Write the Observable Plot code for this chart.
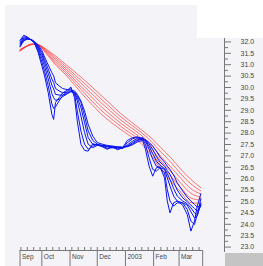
<!DOCTYPE html>
<html><head><meta charset="utf-8">
<script src="https://cdn.jsdelivr.net/npm/d3@7"></script>
<script src="https://cdn.jsdelivr.net/npm/@observablehq/plot@0.6"></script>
<style>
html,body{margin:0;padding:0;background:#fff;}
#wrap{position:relative;width:263px;height:266px;overflow:hidden;}
#bg{position:absolute;left:5px;top:5px;width:258px;height:261px;background:#f4f4f8;}
#wb{position:absolute;left:197px;top:0;width:66px;height:38px;background:#fff;}
#gb{position:absolute;left:225px;top:253px;width:38px;height:13px;background:#c4c4c4;}
#chart{position:absolute;left:0;top:0;width:263px;height:266px;}
</style></head><body>
<div id="wrap"><div id="bg"></div><div id="wb"></div><div id="gb"></div><div id="chart"></div></div>
<script>
// Long-term moving averages (red)
const redDates = ["2002-09-07","2002-09-13","2002-09-19","2002-09-24","2002-10-01","2002-10-05","2002-10-11","2002-10-16","2002-10-22","2002-11-02","2002-11-13","2002-11-24","2002-12-05","2002-12-16","2002-12-27","2003-01-07","2003-01-18","2003-01-29","2003-02-09","2003-02-20","2003-03-03","2003-03-14","2003-03-25"];
const ma30 = [31.60,31.77,31.90,31.88,31.72,31.53,31.24,30.99,30.77,30.30,29.78,29.30,28.85,28.48,28.15,27.85,27.55,27.05,26.40,25.90,25.40,24.95,24.92];
const ma35 = [31.61,31.78,31.90,31.89,31.74,31.57,31.30,31.07,30.85,30.41,29.92,29.45,29.01,28.64,28.29,27.98,27.67,27.20,26.59,26.10,25.60,25.15,25.06];
const ma40 = [31.62,31.78,31.89,31.90,31.76,31.61,31.36,31.15,30.94,30.51,30.05,29.61,29.17,28.79,28.43,28.11,27.79,27.35,26.78,26.31,25.80,25.36,25.19];
const ma45 = [31.64,31.79,31.89,31.90,31.78,31.64,31.42,31.23,31.02,30.62,30.19,29.76,29.34,28.95,28.57,28.24,27.92,27.50,26.98,26.51,26.01,25.56,25.33];
const ma50 = [31.65,31.79,31.88,31.91,31.80,31.68,31.48,31.31,31.11,30.72,30.32,29.92,29.50,29.10,28.71,28.37,28.04,27.65,27.17,26.72,26.21,25.77,25.46];
const ma60 = [31.66,31.80,31.87,31.91,31.81,31.71,31.53,31.39,31.19,30.83,30.46,30.07,29.66,29.26,28.85,28.50,28.16,27.80,27.36,26.92,26.41,25.97,25.60];

// Short-term moving averages (blue)
const blueDates = ["2002-09-07","2002-09-11","2002-09-15","2002-09-20","2002-09-23","2002-09-27","2002-10-01","2002-10-04","2002-10-08","2002-10-12","2002-10-14","2002-10-16","2002-10-20","2002-10-24","2002-10-29","2002-11-02","2002-11-06","2002-11-09","2002-11-13","2002-11-17","2002-11-21","2002-11-26","2002-12-01","2002-12-07","2002-12-12","2002-12-18","2002-12-23","2002-12-29","2003-01-03","2003-01-09","2003-01-14","2003-01-20","2003-01-23","2003-01-27","2003-01-31","2003-02-04","2003-02-08","2003-02-13","2003-02-16","2003-02-19","2003-02-23","2003-02-27","2003-03-05","2003-03-10","2003-03-14","2003-03-18","2003-03-21","2003-03-25"];
const ma3  = [32.07,32.29,32.22,32.07,31.93,31.53,30.95,30.51,29.77,28.82,28.60,29.34,29.55,29.77,29.88,30.02,29.55,28.53,27.51,27.24,27.21,27.53,27.48,27.39,27.29,27.42,27.27,27.36,27.68,27.80,27.83,27.68,27.29,26.55,26.11,26.48,26.52,26.04,25.02,24.50,24.94,25.02,24.84,24.43,23.70,24.14,24.80,25.34];
const ma5  = [32.00,32.23,32.19,32.07,31.95,31.62,31.12,30.71,30.08,29.28,29.08,29.15,29.41,29.66,29.82,29.95,29.70,28.97,28.09,27.51,27.29,27.43,27.51,27.42,27.33,27.36,27.31,27.33,27.58,27.75,27.83,27.75,27.51,26.92,26.41,26.33,26.48,26.26,25.53,25.02,24.80,24.94,24.94,24.65,24.14,23.99,24.43,25.13];
const ma8  = [31.93,32.17,32.17,32.08,31.97,31.70,31.29,30.92,30.38,29.74,29.55,29.44,29.48,29.60,29.73,29.85,29.77,29.41,28.75,28.02,27.51,27.36,27.46,27.45,27.39,27.36,27.36,27.33,27.48,27.65,27.77,27.80,27.65,27.29,26.85,26.55,26.48,26.41,26.04,25.68,25.24,25.02,24.94,24.84,24.55,24.28,24.36,24.94];
const ma10 = [31.87,32.12,32.15,32.09,31.99,31.77,31.43,31.09,30.62,30.10,29.94,29.70,29.67,29.67,29.73,29.82,29.77,29.55,29.12,28.46,27.80,27.51,27.48,27.45,27.42,27.39,27.37,27.36,27.43,27.58,27.71,27.77,27.70,27.43,27.10,26.77,26.58,26.45,26.22,25.97,25.57,25.24,25.02,24.90,24.72,24.50,24.43,24.84];
const ma12 = [31.82,32.08,32.13,32.09,32.00,31.82,31.53,31.22,30.81,30.37,30.22,29.96,29.85,29.77,29.79,29.82,29.79,29.64,29.34,28.75,28.09,27.68,27.51,27.46,27.43,27.40,27.39,27.37,27.42,27.53,27.67,27.74,27.71,27.53,27.29,26.98,26.73,26.55,26.36,26.19,25.85,25.50,25.16,24.99,24.84,24.69,24.58,24.80];
const ma15 = [31.78,32.04,32.12,32.09,32.01,31.87,31.63,31.34,30.99,30.65,30.51,30.21,30.07,29.95,29.91,29.89,29.85,29.70,29.41,28.97,28.38,27.87,27.58,27.51,27.46,27.43,27.40,27.39,27.40,27.49,27.61,27.68,27.70,27.59,27.43,27.21,26.95,26.73,26.55,26.41,26.16,25.82,25.46,25.19,25.02,24.87,24.75,24.84];

// Axis labels
const yTickLabels = [32.0,31.5,31.0,30.5,30.0,29.5,29.0,28.5,28.0,27.5,27.0,26.5,26.0,25.5,25.0,24.5,24.0,23.5,23.0];
const monthBounds = ["2002-09-07","2002-10-01","2002-11-01","2002-12-01","2003-01-01","2003-02-01","2003-03-01","2003-03-27"];
const monthNames = ["Sep","Oct","Nov","Dec","2003","Feb","Mar"];

const parse = d3.utcParse("%Y-%m-%d");
function rows(dates, series) {
  return series.flatMap(([name, vals]) => dates.map((d, i) => ({date: parse(d), value: vals[i], series: name})));
}
const redRows = rows(redDates, [["MA30",ma30],["MA35",ma35],["MA40",ma40],["MA45",ma45],["MA50",ma50],["MA60",ma60]]);
const blueRows = rows(blueDates, [["MA3",ma3],["MA5",ma5],["MA8",ma8],["MA10",ma10],["MA12",ma12],["MA15",ma15]]);

const xDomain = [parse("2002-08-22"), parse("2003-04-20")];
const yDomain = [22.85, 32.15];
const bounds = monthBounds.map(parse);
const monthLabels = monthNames.map((n, i) => ({date: bounds[i], label: n}));
const weeks = d3.utcWeek.range(bounds[0], bounds[bounds.length - 1]);
const minorTicks = d3.range(23.25, 32, 0.5);

const axisColor = "#777";
const chart = Plot.plot({
  width: 263, height: 266,
  marginTop: 38, marginBottom: 16, marginLeft: 5, marginRight: 39,
  style: {background: "transparent", fontFamily: "'Liberation Sans', Arial, sans-serif"},
  x: {type: "utc", domain: xDomain, axis: null},
  y: {domain: yDomain, axis: null},
  marks: [
    Plot.line(redRows, {x: "date", y: "value", z: "series", stroke: "#ff3c3c", strokeWidth: 0.8, strokeOpacity: 0.9, curve: "monotone-x"}),
    Plot.line(blueRows, {x: "date", y: "value", z: "series", stroke: "#0a14f0", strokeWidth: 1}),
    Plot.ruleX([xDomain[1]], {stroke: axisColor, insetBottom: -2}),
    Plot.axisY(minorTicks, {anchor: "right", tickSize: 3, fill: "none", stroke: axisColor, label: null}),
    Plot.axisY(yTickLabels, {anchor: "right", tickSize: 6, tickPadding: 10, tickFormat: d => d.toFixed(1), fontSize: 7, fill: "#444", stroke: axisColor, label: null}),
    Plot.ruleY([yDomain[0]], {x1: bounds[0], x2: bounds[bounds.length - 1], stroke: axisColor}),
    Plot.ruleX(weeks, {x: d => d, insetTop: 209, stroke: axisColor}),
    Plot.axisX(bounds, {anchor: "bottom", tickSize: 16, fill: "none", stroke: axisColor, label: null}),
    Plot.text(monthLabels, {x: "date", text: "label", frameAnchor: "bottom", dx: 2, dy: 8, textAnchor: "start", fontSize: 6.5, fill: "#444"})
  ]
});
document.getElementById("chart").appendChild(chart);
</script>
</body></html>
